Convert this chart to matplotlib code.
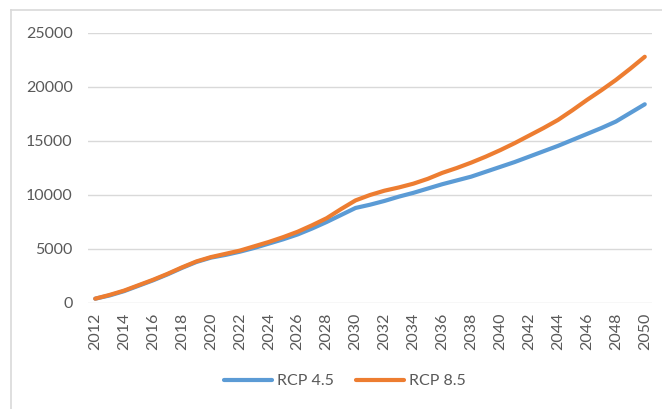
import matplotlib.pyplot as plt
from matplotlib.lines import Line2D

years = list(range(2012, 2051))

rcp45 = [400, 700, 1100, 1600, 2100, 2650, 3250, 3800, 4200, 4450,
         4750, 5100, 5500, 5900, 6350, 6900, 7500, 8150, 8800, 9100,
         9450, 9850, 10200, 10600, 11000, 11350, 11700, 12150, 12600, 13050,
         13550, 14050, 14550, 15100, 15650, 16200, 16800, 17600, 18400]

rcp85 = [400, 750, 1150, 1650, 2150, 2700, 3300, 3850, 4250, 4550,
         4850, 5250, 5650, 6100, 6600, 7200, 7850, 8700, 9500, 10000,
         10400, 10700, 11050, 11500, 12050, 12500, 13000, 13550, 14150, 14800,
         15500, 16200, 16950, 17850, 18800, 19700, 20650, 21700, 22800]

plt.rcParams['font.family'] = ['Lato', 'DejaVu Sans']
text_col = '#595959'

fig = plt.figure(figsize=(6.62, 4.09), dpi=100)
W, H = 662, 409
ax = fig.add_axes([88 / W, 1 - 303 / H, (652 - 88) / W, (303 - 33) / H])

x = list(range(len(years)))
ax.plot(x, rcp45, color='#5B9BD5', lw=3, label='RCP 4.5', solid_capstyle='round')
ax.plot(x, rcp85, color='#ED7D31', lw=3, label='RCP 8.5', solid_capstyle='round')

ax.set_xlim(-0.5, len(years) - 0.5)
ax.set_ylim(0, 25000)
ax.set_yticks(range(0, 25001, 5000))
ax.set_xticks(x[::2])
ax.set_xticklabels([str(y) for y in years[::2]], rotation=90)
ax.tick_params(axis='both', length=0, labelsize=11.5, colors=text_col)
ax.tick_params(axis='y', pad=11)
ax.tick_params(axis='x', pad=7)
ax.grid(axis='y', color='#D9D9D9', lw=1)
ax.set_axisbelow(True)
for s in ax.spines.values():
    s.set_visible(False)

# chart frame
fig.add_artist(Line2D([11 / W, 1], [1 - 10 / H, 1 - 10 / H], color='#D9D9D9', lw=1.2))
fig.add_artist(Line2D([11 / W, 11 / W], [0, 1 - 10 / H], color='#D9D9D9', lw=1.2))

fig.legend(loc='center', bbox_to_anchor=(345 / W, 1 - 381 / H), ncol=2, frameon=False,
           fontsize=11.5, labelcolor=text_col, handlelength=3, handletextpad=0.3,
           columnspacing=1.4)

fig.savefig('out.png', dpi=100)
